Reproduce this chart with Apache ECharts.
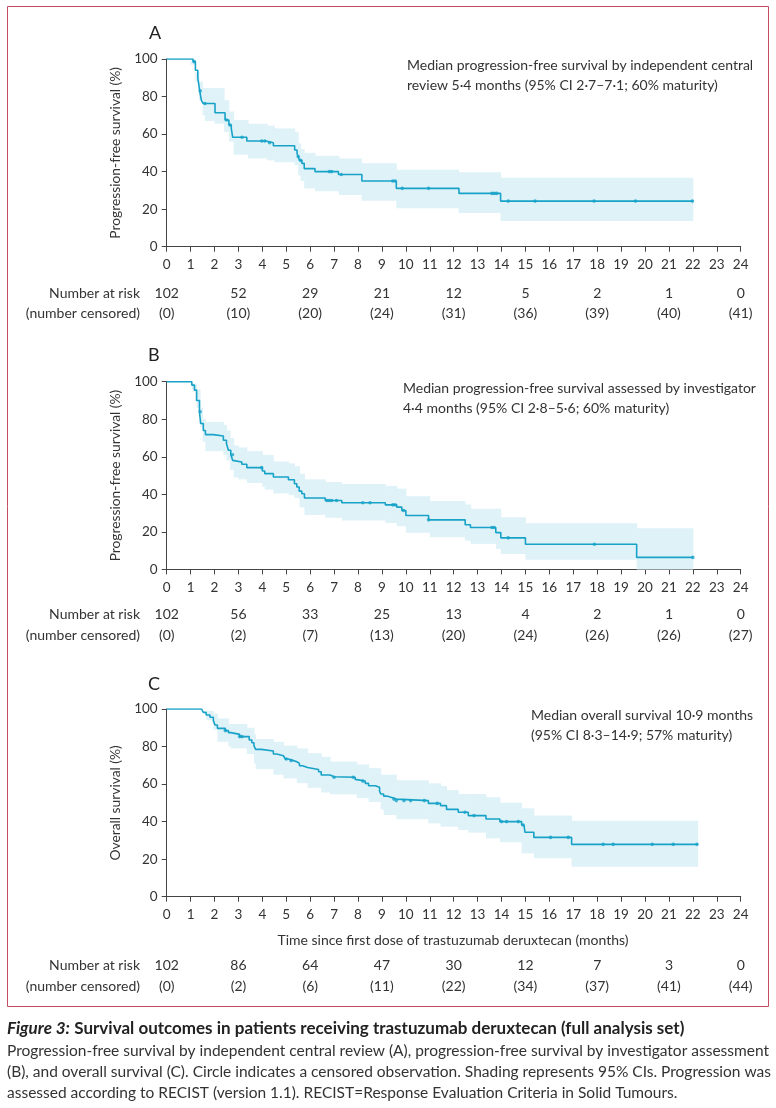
<!DOCTYPE html>
<html>
<head>
<meta charset="utf-8">
<title>Survival outcomes</title>
<script src="https://cdn.jsdelivr.net/npm/echarts@6/dist/echarts.min.js"></script>
<style>
  html, body { margin: 0; padding: 0; background: #fff; }
  #main { width: 776px; height: 1108px; }
</style>
</head>
<body>
<div id="main"></div>
<script type="text/javascript">
// ---- data (months, %) ----
var riskMonths = [0, 3, 6, 9, 12, 15, 18, 21, 24];

// A: PFS by independent central review
var pfsIcrCurve = [[0,100],[1.1,98.6],[1.2,94],[1.3,90],[1.38,83],[1.45,78],[1.53,76.3],[2.02,71.4],[2.44,67.5],[2.6,64.8],[2.7,63],[2.76,58.3],[3.35,56.3],[4.15,55.4],[4.46,53.8],[5.35,51.5],[5.45,49.7],[5.5,48],[5.55,46],[5.65,44.4],[5.75,41.6],[6.2,40],[7.18,38.5],[8.16,35],[9.6,31.1],[12.22,28.4],[13.96,24.3],[22,24.3]];
var pfsIcrCensor = [1.15, 1.4, 1.6, 2.5, 2.65, 3.15, 3.97, 4.1, 4.3, 5.5, 5.6, 6.8, 6.9, 7.3, 9.45, 9.55, 9.85, 10.95, 13.6, 13.7, 13.8, 14.28, 15.4, 17.87, 19.6, 21.98];
var pfsIcrBand = [[0,100,100],[1.0,97,99],[1.2,88,93],[1.35,78,88],[1.5,70,84.5],[1.6,67,84.5],[2.0,65.5,84.5],[2.4,61,78],[2.6,56,72],[2.8,49,67.5],[3.4,47,65.5],[4.2,46,64.5],[4.5,45,63],[5.35,43.5,61],[5.5,38,55],[5.6,35,52],[5.75,31,50],[6.2,29.5,48.5],[7.2,27.5,47],[8.15,24.5,44.5],[9.6,20.5,41],[12.2,18,39.6],[13.96,13.7,36.8],[22,13.7,36.8]];
var pfsIcrAtRisk = ['102', '52', '29', '21', '12', '5', '2', '1', '0'];
var pfsIcrCensored = ['(0)', '(10)', '(20)', '(24)', '(31)', '(36)', '(39)', '(40)', '(41)'];

// B: PFS by investigator
var pfsInvCurve = [[0,100],[0.9,100],[1.05,98.2],[1.16,95.5],[1.25,90],[1.37,84],[1.42,77.7],[1.53,74],[1.62,71.8],[1.95,71.1],[2.37,68.8],[2.5,67],[2.58,63.5],[2.68,61.1],[2.76,58.1],[2.82,57.2],[3.14,56],[3.35,54.2],[4.0,52.4],[4.1,51],[4.46,49.2],[5.09,47.8],[5.34,45.6],[5.44,43.9],[5.54,41.7],[5.65,40.3],[5.76,38],[6.63,36.7],[7.32,35.5],[9.14,34.4],[9.62,33.2],[9.83,31.4],[10.0,28.7],[10.95,26.4],[12.48,23.8],[12.7,22.3],[13.76,19.6],[13.97,16.8],[15.0,13.4],[19.65,6.4],[22,6.4]];
var pfsInvCensor = [1.4, 2.75, 3.97, 6.7, 6.8, 6.9, 7.1, 8.2, 8.5, 9.45, 9.55, 9.9, 10.95, 13.6, 13.69, 14.28, 17.88, 22];
var pfsInvBand = [[0,100,100],[0.9,100,100],[1.05,96,99],[1.25,86,96],[1.4,76,86],[1.5,68,80],[1.62,63,78.6],[2.37,61,77],[2.5,58,74],[2.65,53,70],[2.8,49,66],[3.0,48,65],[3.35,46,63],[4.0,44,61],[4.1,42.5,61],[4.46,40.5,57.5],[5.09,39.5,56.5],[5.34,38,55],[5.55,33,51],[5.76,29,48],[6.63,27.5,46.5],[7.32,26,45.5],[9.14,24.7,44.5],[9.62,23,43],[10.0,19.5,39],[11.0,17.1,36.4],[12.47,15.3,34.6],[12.71,13.6,32.3],[13.77,10.9,32.3],[13.97,8.2,27.8],[15.0,5.2,24.6],[19.65,0,21.9],[22,0,21.9]];
var pfsInvAtRisk = ['102', '56', '33', '25', '13', '4', '2', '1', '0'];
var pfsInvCensored = ['(0)', '(2)', '(7)', '(13)', '(20)', '(24)', '(26)', '(26)', '(27)'];

// C: overall survival
var osCurve = [[0,100],[1.46,100],[1.53,98.2],[1.65,96.8],[1.81,95.6],[1.95,93.8],[2.02,91.5],[2.12,89.7],[2.45,88.5],[2.58,87.4],[2.68,86.5],[3.05,85.3],[3.45,83.5],[3.56,82],[3.65,80.3],[3.72,78.5],[3.95,77.6],[4.46,76],[4.6,75.1],[4.88,74.2],[4.95,73.4],[5.09,72.5],[5.3,71.9],[5.44,71],[5.55,69.8],[5.68,68.8],[5.89,67.8],[6.35,66.6],[6.46,64.8],[6.83,63.9],[7.0,63.6],[7.88,62.5],[7.95,61.6],[8.3,60.4],[8.44,59.1],[8.72,58.3],[8.9,56.3],[8.95,54.7],[9.07,53.6],[9.2,52.8],[9.41,52.0],[9.6,51.2],[10.94,49.7],[11.45,48.5],[11.7,46.5],[12.19,45.0],[12.61,43.2],[13.35,41.4],[13.93,40],[14.84,38.2],[14.94,37.3],[14.98,34.3],[15.35,31.6],[16.93,27.9],[22.2,27.9]];
var osCensor = [2.45, 3.05, 3.15, 5.0, 5.2, 7.0, 7.8, 8.2, 9.5, 9.6, 9.92, 10.2, 10.77, 11.31, 12.47, 12.85, 14.0, 14.21, 14.7, 14.9, 16.05, 16.79, 18.25, 18.67, 20.3, 21.18, 22.17];
var osBand = [[0,100,100],[1.46,100,100],[1.65,94,99],[1.95,89,97.5],[2.12,82.5,95],[2.58,80,92],[2.68,79,92],[3.35,76,90],[3.65,71,86.5],[3.72,68,84],[4.46,65,82.5],[4.88,63,80.5],[5.44,60.5,79],[5.89,58,76.5],[6.46,55.5,74.5],[6.83,54.5,72],[7.95,52.5,70.5],[8.44,50.5,68.5],[8.95,46.5,65],[9.07,43.5,65],[9.6,41.3,62],[10.94,39.1,60.4],[11.45,37.3,59],[11.7,37.3,56.8],[12.19,35.5,54.7],[12.61,34.1,54.7],[13.35,31.1,53],[13.93,29,50.1],[14.84,23.1,47.1],[15.35,20.5,43.2],[16.93,16,40.5],[22.2,16,40.5]];
var osAtRisk = ['102', '86', '64', '47', '30', '12', '7', '3', '0'];
var osCensored = ['(0)', '(2)', '(6)', '(11)', '(22)', '(34)', '(37)', '(41)', '(44)'];

// ---- styling ----
var FONT = 'Lato, "Noto Sans", sans-serif';
var TXT = '#333';
var AXIS = '#444';
var LINE = '#18a2c8';
var BAND = '#dff2f8';

// step-function lookup so censor marks sit on the curve
function survivalAt(curve, t) {
    var v = curve[0][1];
    for (var i = 0; i < curve.length; i++) {
        if (curve[i][0] <= t) v = curve[i][1]; else break;
    }
    return v;
}

// band as step rectangles: [t_start, t_end, lower, upper]
function bandSteps(band) {
    var out = [];
    for (var i = 0; i < band.length - 1; i++) {
        out.push([band[i][0], band[i + 1][0], band[i][1], band[i][2]]);
    }
    return out;
}

function renderBand(params, api) {
    var p0 = api.coord([api.value(0), api.value(3)]);
    var p1 = api.coord([api.value(1), api.value(2)]);
    return {
        type: 'rect',
        shape: { x: p0[0], y: p0[1], width: p1[0] - p0[0] + 0.5, height: p1[1] - p0[1] },
        style: { fill: BAND }
    };
}

var panels = [
    { curve: pfsIcrCurve, censor: pfsIcrCensor, band: pfsIcrBand, top: 59 },
    { curve: pfsInvCurve, censor: pfsInvCensor, band: pfsInvBand, top: 381.7 },
    { curve: osCurve, censor: osCensor, band: osBand, top: 709 }
];
var plotH = 187.7;

var grids = [], xAxes = [], yAxes = [], series = [];
panels.forEach(function (p, i) {
    grids.push({ left: 166.7, right: 35.3, top: p.top, height: plotH });
    xAxes.push({
        type: 'value', gridIndex: i, min: 0, max: 24, interval: 1,
        axisLine: { lineStyle: { color: AXIS, width: 1 } },
        axisTick: { length: 5, lineStyle: { color: AXIS } },
        axisLabel: { fontSize: 13.5, color: TXT, fontFamily: FONT, margin: 11 },
        splitLine: { show: false }
    });
    yAxes.push({
        type: 'value', gridIndex: i, min: 0, max: 100, interval: 20,
        axisLine: { show: true, lineStyle: { color: AXIS, width: 1 } },
        axisTick: { show: true, length: 5, lineStyle: { color: AXIS } },
        axisLabel: { fontSize: 13.5, color: TXT, fontFamily: FONT, margin: 9 },
        splitLine: { show: false }
    });
    series.push({
        type: 'custom', xAxisIndex: i, yAxisIndex: i,
        data: bandSteps(p.band), renderItem: renderBand,
        encode: { x: [0, 1], y: [2, 3] }, silent: true, z: 1
    });
    series.push({
        type: 'line', xAxisIndex: i, yAxisIndex: i, step: 'end',
        data: p.curve, symbol: 'none',
        lineStyle: { color: LINE, width: 1.6 }, z: 3
    });
    series.push({
        type: 'scatter', xAxisIndex: i, yAxisIndex: i,
        data: p.censor.map(function (t) { return [t, survivalAt(p.curve, t)]; }),
        symbol: 'circle', symbolSize: 3.6,
        itemStyle: { color: LINE }, z: 4
    });
});

var myChart = echarts.init(document.getElementById('main'), null, { renderer: 'canvas' });
myChart.setOption({
    animation: false,
    textStyle: { fontFamily: FONT },
    grid: grids,
    xAxis: xAxes,
    yAxis: yAxes,
    series: series
});

function txt(x, y, s, opt) {
    opt = opt || {};
    return {
        type: 'text', x: x, y: y, rotation: opt.rotation || 0,
        style: {
            text: s, fill: opt.color || TXT, fontFamily: FONT,
            fontSize: opt.size || 14, fontWeight: opt.weight || 'normal',
            align: opt.align || 'left', verticalAlign: 'middle',
            rich: opt.rich
        }
    };
}

var graphics = [
    { type: 'rect', shape: { x: 7.5, y: 6.5, width: 761, height: 1000 },
      style: { fill: null, stroke: '#c24d60', lineWidth: 1 } },
    txt(149, 33, 'A', { size: 18, color: '#222' }),
    txt(148, 355, 'B', { size: 18, color: '#222' }),
    txt(148, 684, 'C', { size: 18, color: '#222' }),
    txt(407, 65, 'Median progression-free survival by independent central'),
    txt(407, 85, 'review 5·4 months (95% CI 2·7–7·1; 60% maturity)'),
    txt(403, 388, 'Median progression-free survival assessed by investigator'),
    txt(403, 408, '4·4 months (95% CI 2·8–5·6; 60% maturity)'),
    txt(531, 715, 'Median overall survival 10·9 months'),
    txt(531, 735, '(95% CI 8·3–14·9; 57% maturity)'),
    txt(116, 59 + plotH / 2, 'Progression-free survival (%)', { align: 'center', rotation: Math.PI / 2, size: 13.8 }),
    txt(116, 381.7 + plotH / 2, 'Progression-free survival (%)', { align: 'center', rotation: Math.PI / 2, size: 13.8 }),
    txt(116, 709 + plotH / 2, 'Overall survival (%)', { align: 'center', rotation: Math.PI / 2, size: 13.8 }),
    txt(453, 940, 'Time since first dose of trastuzumab deruxtecan (months)', { align: 'center' }),
    txt(7, 1029, '{i|Figure 3:} {b|Survival outcomes in patients receiving trastuzumab deruxtecan (full analysis set)}', {
        size: 17, color: '#222',
        rich: {
            i: { fontStyle: 'italic', fontWeight: 'bold', fontSize: 17, fontFamily: FONT, fill: '#222' },
            b: { fontWeight: 'bold', fontSize: 17, fontFamily: FONT, fill: '#222' }
        }
    }),
    txt(7, 1051, 'Progression-free survival by independent central review (A), progression-free survival by investigator assessment', { size: 15.5 }),
    txt(7, 1072, '(B), and overall survival (C). Circle indicates a censored observation. Shading represents 95% CIs. Progression was', { size: 15.5 }),
    txt(7, 1093, 'assessed according to RECIST (version 1.1). RECIST=Response Evaluation Criteria in Solid Tumours.', { size: 15.5 })
];

// numbers at risk, placed with the x scale of each panel
var riskRows = [
    { atRisk: pfsIcrAtRisk, censored: pfsIcrCensored, y1: 293, y2: 313 },
    { atRisk: pfsInvAtRisk, censored: pfsInvCensored, y1: 614, y2: 635 },
    { atRisk: osAtRisk, censored: osCensored, y1: 965, y2: 986 }
];
riskRows.forEach(function (r, i) {
    graphics.push(txt(140, r.y1, 'Number at risk', { align: 'right' }));
    graphics.push(txt(140, r.y2, '(number censored)', { align: 'right' }));
    riskMonths.forEach(function (m, k) {
        var px = myChart.convertToPixel({ xAxisIndex: i }, m);
        graphics.push(txt(px, r.y1, r.atRisk[k], { align: 'center' }));
        graphics.push(txt(px, r.y2, r.censored[k], { align: 'center' }));
    });
});

myChart.setOption({ graphic: graphics });
</script>
</body>
</html>
